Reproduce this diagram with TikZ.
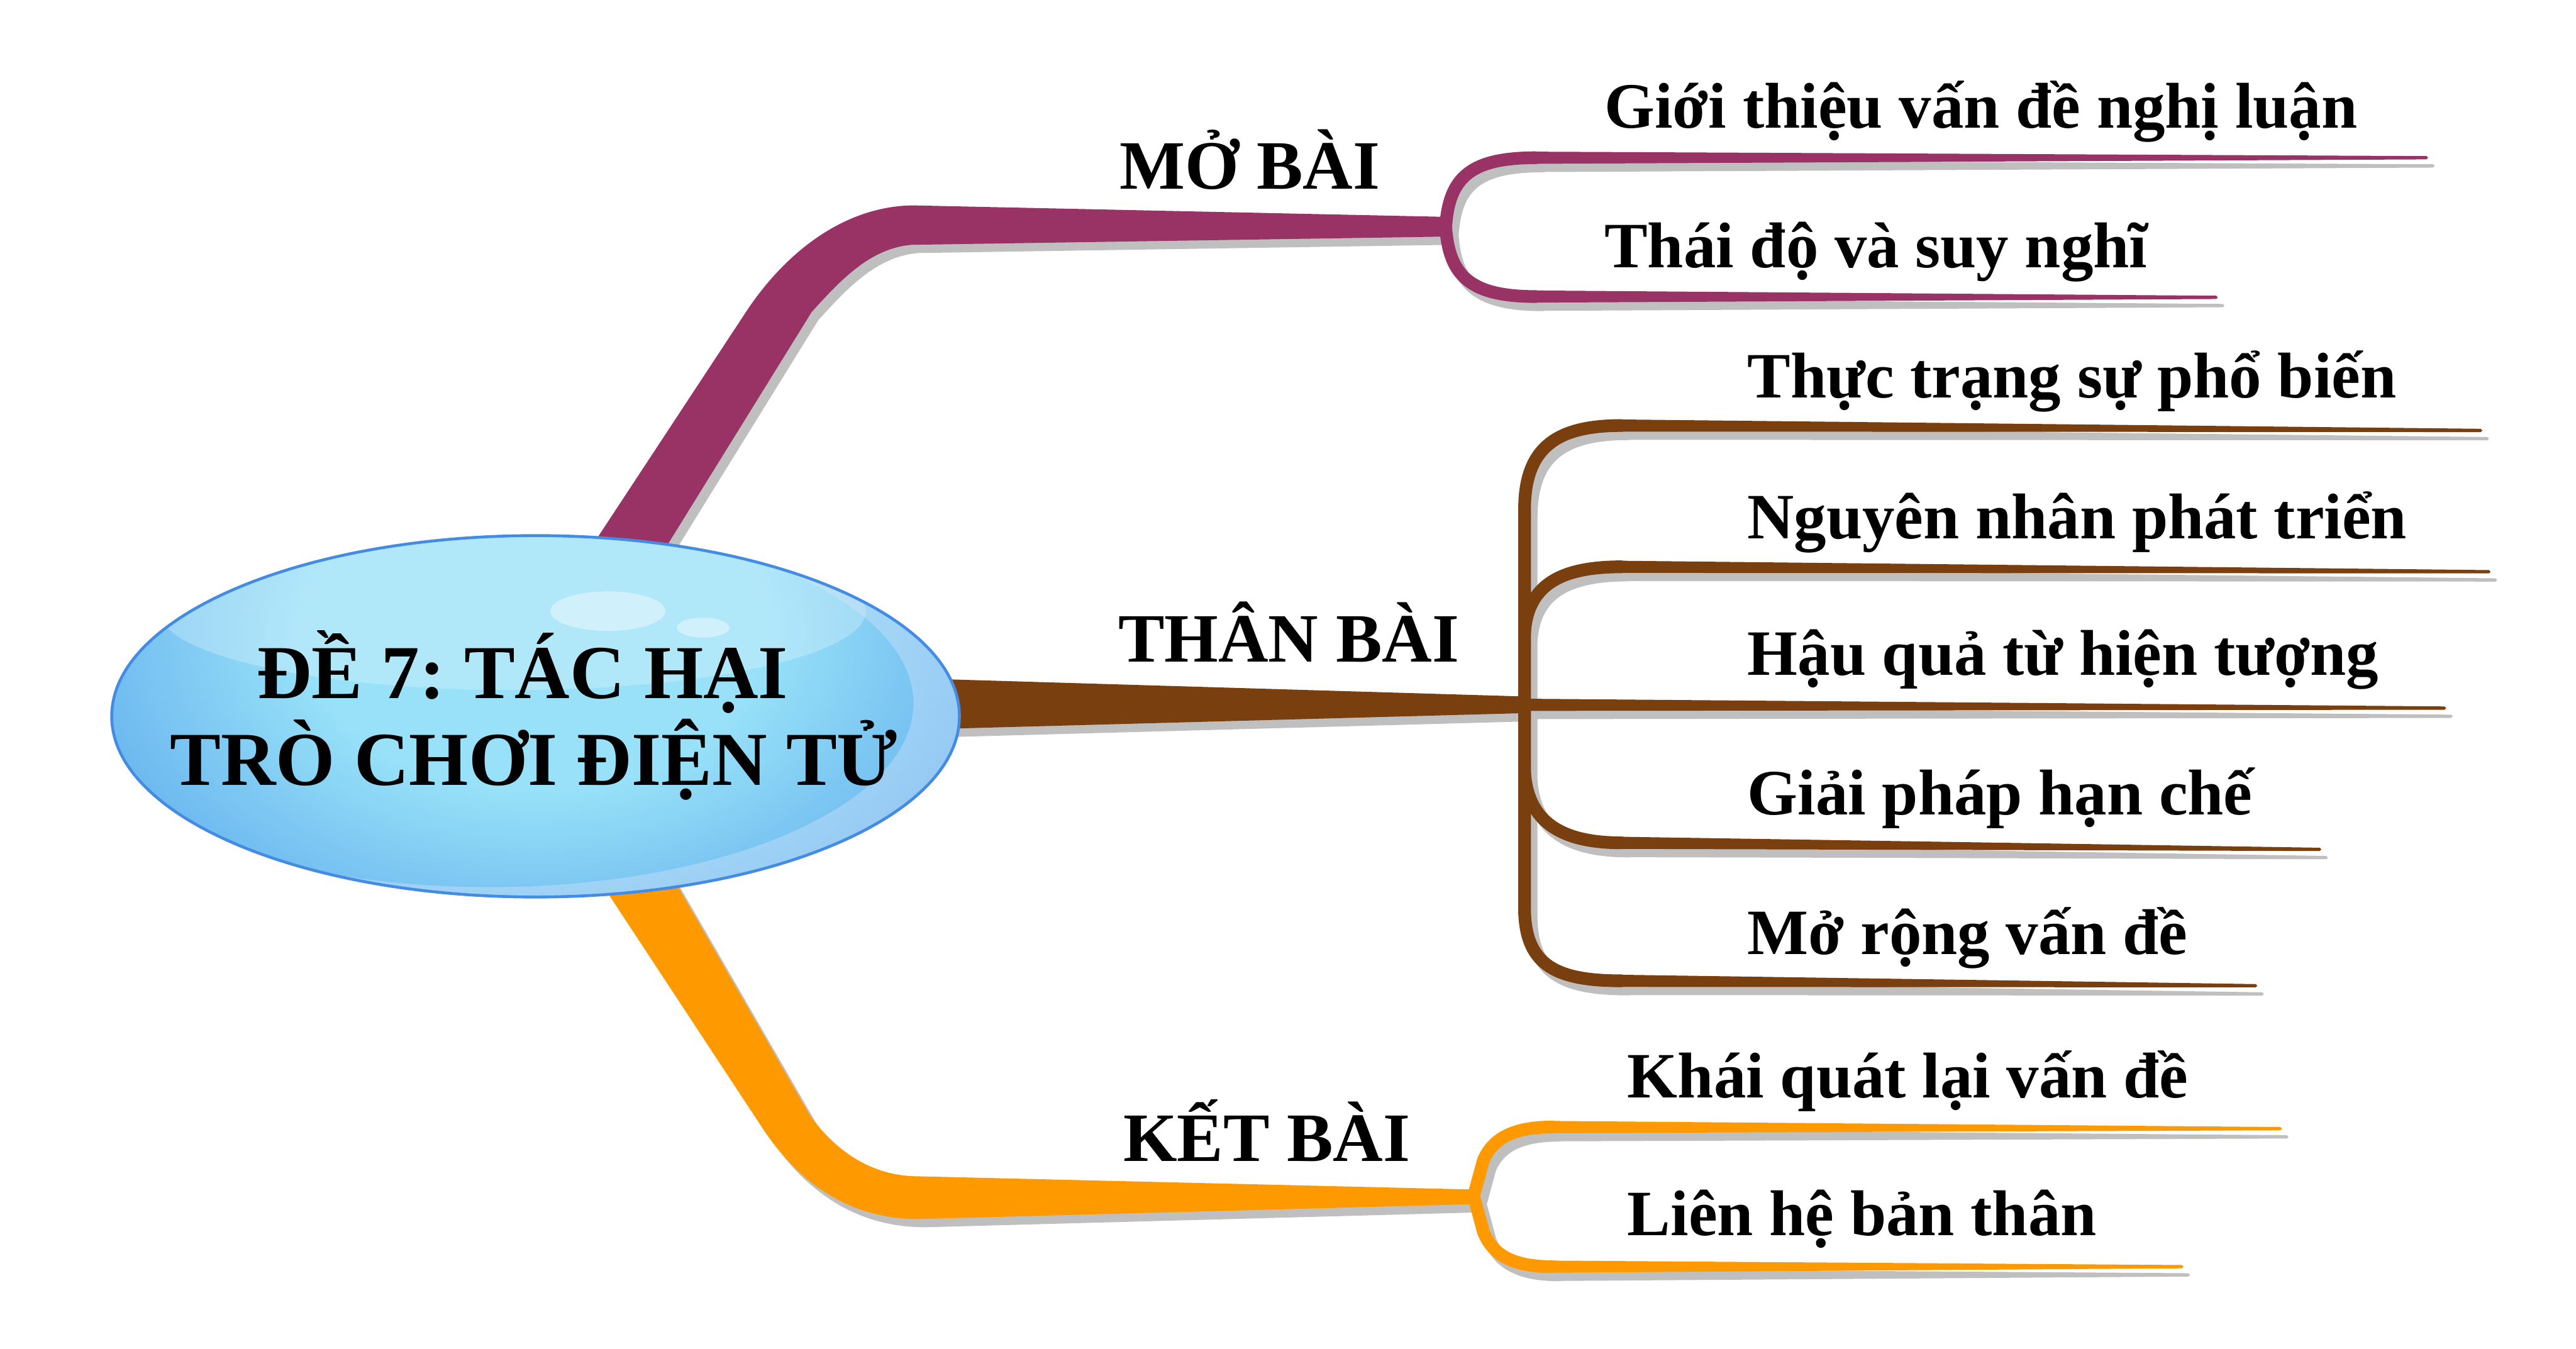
\documentclass[tikz,border=0pt]{standalone}
\usepackage{fontspec}
\setmainfont{Liberation Serif}
\frenchspacing
\usetikzlibrary{positioning}
\definecolor{moplum}{HTML}{993366}
\definecolor{thanbrown}{HTML}{7A3F0F}
\definecolor{ketorange}{HTML}{FF9900}
\definecolor{shadowgray}{HTML}{BFBFBF}
\definecolor{bubcore}{HTML}{98E1F8}
\definecolor{bubmid}{HTML}{6CB8EF}
\definecolor{bubedge}{HTML}{448BE3}
\definecolor{bubglow}{HTML}{D4E4FA}
\pgfdeclareradialshading{bubble}{\pgfpoint{0bp}{0bp}}{color(0bp)=(bubcore); color(12bp)=(bubcore); color(24bp)=(bubmid); color(32bp)=(bubedge); color(50bp)=(bubedge)}
\tikzset{
	itemtext/.style={anchor=base west, inner sep=0pt, font=\fontsize{11.2}{13}\selectfont\bfseries},
	parttext/.style={anchor=base west, inner sep=0pt, font=\fontsize{12}{14}\selectfont\bfseries},
	titletext/.style={anchor=base, inner sep=0pt, font=\fontsize{13.2}{15}\selectfont\bfseries},
	bracket/.style={line width=2.2pt}
}
\newcommand{\twig}[5]{\fill[#5] (#1,#2-3.7) -- (#3,#4-1) -- (#3+1,#4) -- (#3,#4+1) -- (#1,#2+3.7) -- cycle;}
\newcommand{\mobai}[1]{%
	\fill[#1] (352,345) -- (454,190) .. controls (475,158) and (510,126) .. (555,125) -- (880,132) -- (880,144) -- (555,149) .. controls (530,151) and (512,170) .. (494,190) -- (398,345) -- cycle;
	\draw[#1, bracket] (935,96) .. controls (895,96) and (882,108) .. (880,138) .. controls (882,168) and (895,180.5) .. (935,180.5);
	\twig{934}{96}{1477}{96}{#1}
	\twig{934}{180.5}{1349}{181}{#1}}
\newcommand{\thanbai}[1]{%
	\fill[#1] (560,413) -- (930,424) -- (930,434) -- (560,444) -- cycle;
	\draw[#1, bracket] (987,259) .. controls (948,259) and (928,272) .. (928,310) -- (928,555) .. controls (929,588) and (948,597) .. (987,597);
	\draw[#1, bracket] (928,385) .. controls (930,356) and (950,345) .. (987,345);
	\draw[#1, bracket] (928,470) .. controls (930,500) and (950,513) .. (987,513);
	\twig{985}{259}{1510}{262}{#1}
	\twig{985}{345}{1515}{348}{#1}
	\twig{928}{429}{1488}{431}{#1}
	\twig{985}{513}{1412}{517}{#1}
	\twig{985}{597}{1373}{600}{#1}}
\newcommand{\ketbai}[1]{%
	\fill[#1] (407,530) -- (493,679) .. controls (512,705) and (535,716) .. (559,716) -- (895,724) -- (895,733) -- (559,742) .. controls (522,742) and (490,725) .. (465,688) -- (361,530) -- cycle;
	\draw[#1, bracket] (945,686) .. controls (918,686) and (908,695) .. (903,706) -- (897,728) -- (903,750) .. controls (908,762) and (918,771) .. (945,771);
	\twig{944}{686}{1388}{687}{#1}
	\twig{944}{771}{1328}{771}{#1}}
\begin{document}
\begin{tikzpicture}[line cap=round,line join=round, x=0.1mm,y=-0.1mm]
	\fill[white] (0,0) rectangle (1568,821);
	\useasboundingbox (0,0) rectangle (1568,821);
	\begin{scope}[shift={(4,5)}]
		\mobai{shadowgray}
		\thanbai{shadowgray}
		\ketbai{shadowgray}
	\end{scope}
	\mobai{moplum}
	\thanbai{thanbrown}
	\ketbai{ketorange}
	\coordinate (hub) at (326,436);
	\begin{scope}
		\clip (hub) ellipse [x radius=258, y radius=110];
		\shade[shading=bubble] (326,385) ellipse [x radius=290, y radius=200];
		\fill[white, opacity=.25] (312,372) ellipse [x radius=215, y radius=48];
		\fill[white, opacity=.4] (370,372) ellipse [x radius=35, y radius=12];
		\fill[white, opacity=.4] (428,382) ellipse [x radius=16, y radius=6];
		\fill[bubglow, opacity=.4, even odd rule] (hub) ellipse [x radius=258, y radius=110] (298,428) ellipse [x radius=258, y radius=112];
	\end{scope}
	\draw[bubedge, line width=.5pt] (hub) ellipse [x radius=258, y radius=110];
	\node[titletext] (titletop) at (318,425) {ĐỀ 7: TÁC HẠI};
	\node[titletext] (titlebot) at (325,478) {TRÒ CHƠI ĐIỆN TỬ};
	\node[parttext] (mo) at (681,115) {MỞ BÀI};
	\node[parttext] (than) at (680,403) {THÂN BÀI};
	\node[parttext] (ket) at (683,707) {KẾT BÀI};
	\node[itemtext] (mo1) at (976,78) {Giới thiệu vấn đề nghị luận};
	\node[itemtext] (mo2) at (976,163) {Thái độ và suy nghĩ};
	\foreach \y/\t [count=\i] in {242/Thực trạng sự phổ biến, 328/Nguyên nhân phát triển, 411/Hậu quả từ hiện tượng, 496/Giải pháp hạn chế, 581/Mở rộng vấn đề}
	\node[itemtext] (than\i) at (1063,\y) {\t};
	\node[itemtext] (ket1) at (990,668) {Khái quát lại vấn đề};
	\node[itemtext] (ket2) at (990,752) {Liên hệ bản thân};
\end{tikzpicture}
\end{document}
